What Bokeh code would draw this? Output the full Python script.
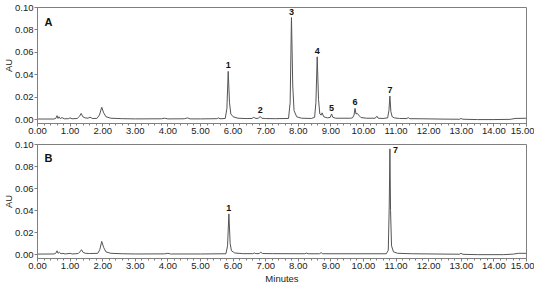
from bokeh.plotting import figure
from bokeh.layouts import column
from bokeh.models import Range1d, NumeralTickFormatter, FixedTicker, Label, ColumnDataSource
from bokeh.core.properties import value
from bokeh.embed import file_html
from bokeh.resources import INLINE

# ---- data ----
trace_a_t = [0.00, 0.50, 0.56, 0.60, 0.63, 0.66, 0.70, 0.75, 0.82, 0.95, 1.00, 1.06, 1.22, 1.29, 1.34, 1.39,
             1.46, 1.55, 1.61, 1.68, 1.82, 1.90, 1.97, 2.03, 2.10, 2.25, 2.60, 3.00, 3.80, 3.90, 4.00, 4.50,
             4.60, 4.68, 5.00, 5.50, 5.55, 5.60, 5.76, 5.81, 5.85, 5.89, 5.93, 6.00, 6.15, 6.40, 6.58, 6.63,
             6.70, 6.78, 6.83, 6.88, 7.00, 7.30, 7.70, 7.75, 7.79, 7.83, 7.87, 7.95, 8.10, 8.40, 8.50, 8.54,
             8.58, 8.62, 8.66, 8.70, 8.73, 8.78, 8.90, 8.98, 9.02, 9.06, 9.15, 9.60, 9.66, 9.71, 9.74, 9.77,
             9.81, 9.85, 9.92, 10.10, 10.36, 10.41, 10.45, 10.60, 10.74, 10.78, 10.81, 10.84, 10.88, 10.95,
             11.10, 11.33, 11.37, 11.42, 11.80, 12.50, 12.95, 12.99, 13.05, 13.50, 14.00, 14.50, 14.65, 15.00]
trace_a_au = [0.0005, 0.0005, 0.0010, 0.0035, 0.0010, 0.0025, 0.0008, 0.0018, 0.0007, 0.0008, 0.0015, 0.0007,
              0.0010, 0.0030, 0.0055, 0.0025, 0.0015, 0.0012, 0.0022, 0.0010, 0.0010, 0.0040, 0.0110, 0.0060,
              0.0025, 0.0012, 0.0008, 0.0006, 0.0007, 0.0012, 0.0006, 0.0007, 0.0015, 0.0006, 0.0006, 0.0008,
              0.0015, 0.0007, 0.0010, 0.0100, 0.0430, 0.0150, 0.0050, 0.0025, 0.0012, 0.0009, 0.0010, 0.0020,
              0.0010, 0.0012, 0.0028, 0.0012, 0.0009, 0.0008, 0.0010, 0.0150, 0.0910, 0.0300, 0.0080, 0.0025,
              0.0012, 0.0010, 0.0020, 0.0150, 0.0560, 0.0180, 0.0050, 0.0040, 0.0060, 0.0025, 0.0015, 0.0020,
              0.0050, 0.0020, 0.0012, 0.0012, 0.0015, 0.0040, 0.0100, 0.0050, 0.0055, 0.0040, 0.0018, 0.0012,
              0.0012, 0.0030, 0.0012, 0.0010, 0.0015, 0.0080, 0.0210, 0.0070, 0.0025, 0.0015, 0.0010, 0.0009,
              0.0018, 0.0008, 0.0007, 0.0004, 0.0003, 0.0010, 0.0003, 0.0000, 0.0000, 0.0002, 0.0010, 0.0012]

trace_b_t = [0.00, 0.50, 0.56, 0.60, 0.63, 0.67, 0.72, 0.78, 0.85, 1.00, 1.06, 1.25, 1.30, 1.35, 1.40, 1.48,
             1.60, 1.85, 1.91, 1.97, 2.03, 2.10, 2.25, 2.60, 3.00, 3.90, 4.00, 4.08, 5.00, 5.78, 5.83, 5.87,
             5.91, 5.95, 6.05, 6.30, 6.60, 6.65, 6.70, 6.80, 6.85, 6.90, 7.20, 8.20, 8.25, 8.30, 8.65, 8.70,
             8.75, 9.80, 10.70, 10.76, 10.79, 10.81, 10.83, 10.86, 10.92, 11.05, 11.50, 12.50, 12.95, 12.99,
             13.05, 13.50, 14.30, 14.60, 14.75, 15.00]
trace_b_au = [0.0005, 0.0006, 0.0012, 0.0035, 0.0012, 0.0022, 0.0008, 0.0012, 0.0006, 0.0012, 0.0006, 0.0010,
              0.0025, 0.0045, 0.0020, 0.0012, 0.0010, 0.0012, 0.0045, 0.0120, 0.0065, 0.0025, 0.0012, 0.0008,
              0.0006, 0.0007, 0.0012, 0.0006, 0.0006, 0.0008, 0.0080, 0.0370, 0.0100, 0.0035, 0.0015, 0.0009,
              0.0009, 0.0015, 0.0009, 0.0010, 0.0022, 0.0010, 0.0009, 0.0008, 0.0014, 0.0008, 0.0008, 0.0018,
              0.0008, 0.0008, 0.0008, 0.0040, 0.0450, 0.0960, 0.0400, 0.0080, 0.0025, 0.0012, 0.0008, 0.0005,
              0.0004, 0.0012, 0.0003, 0.0000, 0.0000, 0.0005, 0.0012, 0.0012]

peaks_a_label = ["1", "2", "3", "4", "5", "6", "7"]
peaks_a_t = [5.85, 6.83, 7.79, 8.58, 9.02, 9.74, 10.81]
peaks_a_au = [0.0430, 0.0028, 0.0910, 0.0560, 0.0050, 0.0100, 0.0210]

peaks_b_label = ["1", "7"]
peaks_b_t = [5.87, 10.81]
peaks_b_au = [0.0370, 0.0960]

x_ticks = [0, 1, 2, 3, 4, 5, 6, 7, 8, 9, 10, 11, 12, 13, 14, 15]
x_minor = [i / 5 for i in range(76)]
y_ticks = [0.00, 0.02, 0.04, 0.06, 0.08, 0.10]

FONT = "Liberation Sans"
GRAY = "#7f7f7f"
TRACE = "#555555"
TXT = "#222222"


def make_panel(t, au, letter, height, b_top, b_bottom, xlabel):
    p = figure(width=534, height=height, output_backend="svg", toolbar_location=None,
               x_range=Range1d(0, 15), y_range=Range1d(-0.0035, 0.10),
               min_border_left=29, min_border_right=8, min_border_top=b_top,
               min_border_bottom=b_bottom)
    p.grid.visible = False
    p.outline_line_color = GRAY
    p.outline_line_width = 1

    p.line(t, au, line_color=TRACE, line_width=1)

    for ax in (p.xaxis[0], p.yaxis[0]):
        ax.axis_line_color = GRAY
        ax.major_tick_line_color = GRAY
        ax.minor_tick_line_color = GRAY
        ax.major_tick_in = 0
        ax.major_tick_out = 3
        ax.minor_tick_in = 0
        ax.minor_tick_out = 2
        ax.major_label_text_font = FONT
        ax.major_label_text_font_size = "9.5px"
        ax.major_label_text_color = TXT
        ax.major_label_standoff = 1
        ax.axis_label_text_font = FONT
        ax.axis_label_text_font_size = "9.5px"
        ax.axis_label_text_font_style = "normal"
        ax.axis_label_text_color = TXT

    p.xaxis.ticker = FixedTicker(ticks=x_ticks, minor_ticks=x_minor)
    p.xaxis.formatter = NumeralTickFormatter(format="0.00")
    p.yaxis.ticker = FixedTicker(ticks=y_ticks)
    p.yaxis.formatter = NumeralTickFormatter(format="0.00")
    p.yaxis.minor_tick_line_color = None
    p.yaxis.axis_label = "AU"
    p.yaxis.axis_label_standoff = -2
    if xlabel:
        p.xaxis.axis_label = xlabel
        p.xaxis.axis_label_standoff = 1

    p.add_layout(Label(x=11, y=(height - b_top - b_bottom) - 14, x_units="screen", y_units="screen",
                       text=letter, text_font=FONT, text_font_size="11px", text_font_style="bold",
                       text_align="center", text_baseline="middle", text_color="#111111"))
    return p


pa = make_panel(trace_a_t, trace_a_au, "A", height=138, b_top=7, b_bottom=15, xlabel=None)
pb = make_panel(trace_b_t, trace_b_au, "B", height=148, b_top=6, b_bottom=27, xlabel="Minutes")

src_a = ColumnDataSource(dict(x=peaks_a_t, y=peaks_a_au, t=peaks_a_label))
pa.text(x="x", y="y", text="t", source=src_a, text_font=value(FONT),
        text_font_size="9px", text_font_style="bold", text_align="center",
        text_baseline="bottom", y_offset=-3, text_color="#111111")

pb.text(x=peaks_b_t[:1], y=peaks_b_au[:1], text=peaks_b_label[:1], text_font=value(FONT),
        text_font_size="9px", text_font_style="bold", text_align="center",
        text_baseline="bottom", y_offset=-3, text_color="#111111")
pb.text(x=peaks_b_t[1:], y=peaks_b_au[1:], text=peaks_b_label[1:], text_font=value(FONT),
        text_font_size="9px", text_font_style="bold", text_align="left",
        text_baseline="middle", x_offset=3, y_offset=1, text_color="#111111")

p = column(pa, pb, spacing=0)
open("out.html", "w").write(file_html(p, INLINE))
